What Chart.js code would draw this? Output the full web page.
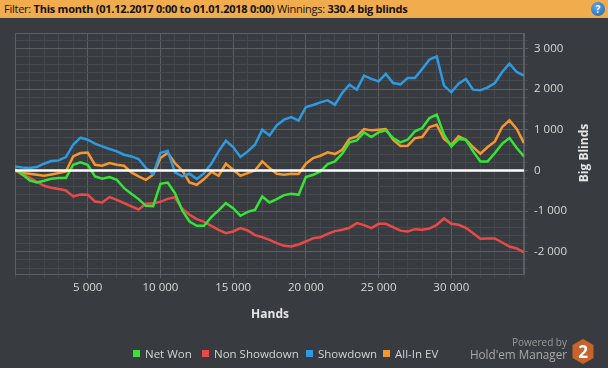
<!DOCTYPE html>
<html>
<head>
<meta charset="utf-8">
<script src="https://cdn.jsdelivr.net/npm/chart.js@4.4.0/dist/chart.umd.min.js"></script>
<style>
    html, body { margin: 0; padding: 0; background: #383b3f; }
    #wrap { position: relative; width: 608px; height: 368px; overflow: hidden; font-family: "Open Sans", sans-serif; }
    #chart { position: absolute; left: 0; top: 0; width: 608px; height: 368px; }
    #filter { position: absolute; left: 0; top: 0; width: 608px; height: 18px; background: #f1ad4d; color: #111;
        font-size: 11px; line-height: 18px; padding-left: 4px; box-sizing: border-box; white-space: nowrap; letter-spacing: -0.25px; }
    #filter b { font-weight: 700; }
    #help { position: absolute; left: 591px; top: 2px; width: 14px; height: 14px; border-radius: 50%;
        background: radial-gradient(circle at 40% 35%, #5fa8ea, #1f5fa8); color: #fff; font-weight: 700; font-size: 10px;
        line-height: 14px; text-align: center; letter-spacing: 0; }
    .title { position: absolute; color: #e6e6e6; font-weight: 700; font-size: 12px; white-space: nowrap; }
    #xtitle { left: 270px; top: 313px; transform: translate(-50%, -50%); }
    #ytitle { left: 583px; top: 153px; transform: translate(-50%, -50%) rotate(-90deg); }
    .item { position: absolute; top: 345px; height: 18px; line-height: 18px; font-size: 11.5px; color: #d4d4d4; white-space: nowrap; }
    .item i { display: inline-block; width: 7px; height: 7px; margin-right: 5px; vertical-align: 1px; }
    #powered { position: absolute; right: 41px; top: 335px; font-size: 10px; color: #9a9a9a; }
    #hem { position: absolute; right: 41px; top: 346px; font-size: 11.7px; color: #a9a9a9; white-space: nowrap; }
    #logo { position: absolute; left: 572px; top: 339px; }
</style>
</head>
<body>
<div id="wrap">
    <canvas id="chart" width="608" height="368"></canvas>
    <div id="filter">Filter: <b>This month (01.12.2017 0:00 to 01.01.2018 0:00)</b> Winnings: <b>330.4 big blinds</b><span id="help">?</span></div>
    <div class="title" id="xtitle">Hands</div>
    <div class="title" id="ytitle">Big Blinds</div>
    <div id="legend"></div>
    <div id="powered">Powered by</div>
    <div id="hem">Hold'em Manager</div>
    <svg id="logo" width="22" height="25" viewBox="0 0 22 25">
        <polygon points="11,0 21.5,6 21.5,19 11,25 0.5,19 0.5,6" fill="#c8632b"/>
        <text x="11" y="19" text-anchor="middle" font-family="Open Sans, sans-serif" font-weight="700" font-size="17" fill="#fff">2</text>
    </svg>
</div>
<script>
// hands played (x values)
const hands = [0, 500, 1000, 1500, 2000, 2500, 3000, 3500, 4000, 4500,
    5000, 5500, 6000, 6500, 7000, 7500, 8000, 8500, 9000, 9500,
    10000, 10500, 11000, 11500, 12000, 12500, 13000, 13500, 14000, 14500,
    15000, 15500, 16000, 16500, 17000, 17500, 18000, 18500, 19000, 19500,
    20000, 20500, 21000, 21500, 22000, 22500, 23000, 23500, 24000, 24500,
    25000, 25500, 26000, 26500, 27000, 27500, 28000, 28500, 29000, 29500,
    30000, 30500, 31000, 31500, 32000, 32500, 33000, 33500, 34000, 34500, 35000];

// big blinds
const netWon = [30, -90, -246, -295, -254, -205, -189, -189, 139, 197,
    139, -148, -205, -164, -230, -435, -574, -705, -870, -880,
    -330, -300, -560, -984, -1255, -1361, -1361, -1148, -984, -804,
    -927, -1115, -1017, -968, -640, -787, -705, -607, -574, -599,
    -164, -107, -25, 156, 221, 410, 689, 738, 935, 820,
    935, 984, 795, 690, 754, 959, 1041, 1287, 1369, 877,
    590, 771, 754, 467, 221, 221, 426, 656, 795, 549, 344];

const nonShowdown = [0, -107, -180, -279, -377, -426, -459, -492, -640, -590,
    -599, -763, -787, -656, -722, -804, -886, -960, -820, -804,
    -771, -700, -660, -943, -1091, -1197, -1263, -1361, -1460, -1542,
    -1501, -1419, -1476, -1591, -1640, -1706, -1788, -1853, -1870, -1820,
    -1747, -1665, -1640, -1558, -1492, -1460, -1410, -1296, -1345, -1419,
    -1312, -1312, -1394, -1480, -1501, -1443, -1460, -1427, -1337, -1180,
    -1312, -1337, -1410, -1542, -1681, -1673, -1673, -1771, -1870, -1919, -2017];

const showdown = [98, 74, 57, 82, 164, 230, 246, 328, 631, 804,
    754, 656, 590, 525, 467, 385, 344, 279, 60, -90,
    430, 480, -50, -148, -82, -213, -66, 164, 467, 730,
    574, 328, 467, 631, 1000, 860, 1107, 1246, 1312, 1222,
    1558, 1607, 1673, 1722, 1615, 1902, 2107, 1984, 2329, 2247,
    2189, 2370, 2148, 2115, 2271, 2271, 2493, 2722, 2800, 2083,
    1919, 2132, 2247, 1984, 1968, 2042, 2148, 2419, 2624, 2419, 2329];

const allInEV = [0, -66, -82, -107, -131, -98, -66, -25, 344, 426,
    440, 139, 115, 180, 139, 115, -49, -148, -230, -107,
    303, 426, 180, 0, -295, -353, -213, -33, -131, 164,
    16, -131, -66, 0, 221, 57, -82, -107, -82, -90,
    164, 303, 361, 443, 402, 508, 779, 836, 1017, 984,
    1000, 1017, 754, 600, 607, 795, 820, 1066, 1123, 771,
    631, 836, 754, 574, 410, 574, 713, 1066, 1230, 1017, 672];

const seriesNames = ['Net Won', 'Non Showdown', 'Showdown', 'All-In EV'];
const seriesColors = ['#36e336', '#e84a4a', '#2f9ae0', '#f5972f'];

// axis ticks
const xMajor = [5000, 10000, 15000, 20000, 25000, 30000];
const yMajor = [-2000, -1000, 0, 1000, 2000, 3000];
const xMin = 0, xMax = 35000, xStep = 1000;
const yMin = -2545, yMax = 3376, yStep = 200;

const gridMinor = '#45484c';
const gridMajor = '#5b5e62';
const font = { family: 'Open Sans', size: 11.5 };

function fmt(v) {
    const s = String(Math.abs(v)).replace(/\B(?=(\d{3})+(?!\d))/g, ' ');
    return v < 0 ? '-' + s : s;
}

function toPoints(vals) {
    return vals.map((v, i) => ({ x: hands[i], y: v }));
}

const legend = document.getElementById('legend');
const legendX = [133, 202, 306, 383];
seriesNames.forEach((name, i) => {
    const el = document.createElement('div');
    el.className = 'item';
    el.style.left = legendX[i] + 'px';
    el.innerHTML = '<i style="background:' + seriesColors[i] + '"></i>' + name;
    legend.appendChild(el);
});

const frame = {
    id: 'frame',
    beforeDatasetsDraw(chart) {
        const a = chart.chartArea, c = chart.ctx;
        c.save();
        c.strokeStyle = gridMajor;
        c.lineWidth = 1;
        c.strokeRect(a.left + 0.5, a.top + 0.5, a.right - a.left - 1, a.bottom - a.top);
        c.restore();
    },
    afterDatasetsDraw(chart) {
        const a = chart.chartArea, c = chart.ctx;
        const y = chart.scales.y.getPixelForValue(0);
        c.save();
        c.strokeStyle = '#ffffff';
        c.lineWidth = 2.5;
        c.beginPath();
        c.moveTo(a.left, y);
        c.lineTo(a.right, y);
        c.stroke();
        c.restore();
    }
};

const datasets = [netWon, nonShowdown, showdown, allInEV].map((vals, i) => ({
    label: seriesNames[i],
    data: toPoints(vals),
    borderColor: seriesColors[i],
    borderWidth: 2.5,
    pointRadius: 0,
    tension: 0,
    fill: false
}));

new Chart(document.getElementById('chart'), {
    type: 'line',
    data: { datasets: datasets },
    options: {
        responsive: false,
        animation: false,
        layout: { padding: { left: 15, top: 33, right: 0, bottom: 0 } },
        plugins: {
            legend: { display: false },
            tooltip: { enabled: false }
        },
        scales: {
            x: {
                type: 'linear',
                min: xMin,
                max: xMax,
                afterBuildTicks: s => {
                    const t = [];
                    for (let v = xMin; v <= xMax; v += xStep) t.push({ value: v });
                    s.ticks = t;
                },
                afterFit: s => { s.height = 94; },
                grid: {
                    color: ctx => (xMajor.includes(ctx.tick.value) ? gridMajor : gridMinor),
                    tickLength: 4
                },
                border: { color: gridMajor },
                ticks: {
                    autoSkip: false,
                    maxRotation: 0,
                    padding: 3,
                    color: '#d9d9d9',
                    font: font,
                    callback: v => (xMajor.includes(v) ? fmt(v) : '')
                }
            },
            y: {
                position: 'right',
                min: yMin,
                max: yMax,
                afterBuildTicks: s => {
                    const t = [];
                    for (let v = -2400; v <= yMax; v += yStep) t.push({ value: v });
                    s.ticks = t;
                },
                afterFit: s => { s.width = 84; },
                grid: {
                    color: ctx => (yMajor.includes(ctx.tick.value) ? gridMajor : gridMinor),
                    tickLength: 4
                },
                border: { color: gridMajor },
                ticks: {
                    autoSkip: false,
                    padding: 6,
                    color: '#d9d9d9',
                    font: font,
                    callback: v => (yMajor.includes(v) ? fmt(v) : '')
                }
            }
        }
    },
    plugins: [frame]
});
</script>
</body>
</html>
